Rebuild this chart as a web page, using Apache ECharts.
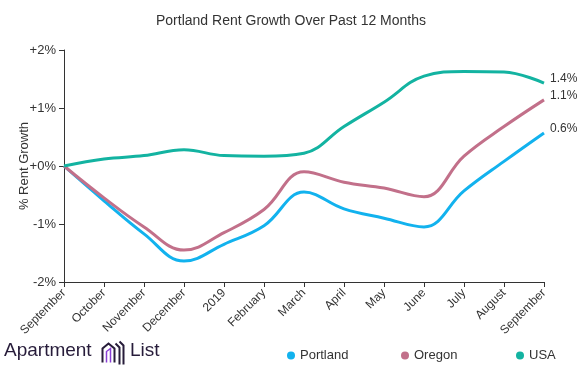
<!DOCTYPE html>
<html><head><meta charset="utf-8">
<script src="https://cdn.jsdelivr.net/npm/echarts@6/dist/echarts.min.js"></script>
<style>html,body{margin:0;padding:0;background:#fff}#c{width:582px;height:372px}</style>
</head><body><div id="c"></div>
<script>
const categories = ['September','October','November','December','2019','February','March','April','May','June','July','August','September'];
const portland = [0, -0.6, -1.17, -1.64, -1.35, -1.03, -0.45, -0.74, -0.9, -1.05, -0.43, 0.08, 0.57];
const oregon = [0, -0.55, -1.05, -1.45, -1.15, -0.75, -0.1, -0.28, -0.38, -0.53, 0.17, 0.68, 1.14];
const usa = [0, 0.12, 0.18, 0.28, 0.18, 0.17, 0.22, 0.68, 1.1, 1.55, 1.63, 1.62, 1.43];
const yTicks = [-2, -1, 0, 1, 2];
const legendNames = ['Portland', 'Oregon', 'USA'];

const chart = echarts.init(document.getElementById('c'));
function mk(name, data, color) {
  return {
    name, type: 'line', data, smooth: 0.4, symbol: 'none',
    lineStyle: { color, width: 3 }, itemStyle: { color },
    endLabel: { show: true, formatter: p => p.value.toFixed(1) + '%', color: '#333', fontSize: 12, fontFamily: 'Arial, Liberation Sans', distance: 6, offset: [0, -4] }
  };
}
const legendLeft = [282, 396, 511];
chart.setOption({
  animation: false,
  title: { text: 'Portland Rent Growth Over Past 12 Months', left: 'center', top: 9, textStyle: { fontSize: 14, fontWeight: 'normal', color: '#333', fontFamily: 'Arial, Liberation Sans' } },
  grid: { left: 64, right: 38, top: 50, bottom: 90, containLabel: false, outerBoundsMode: 'none' },
  legend: legendNames.map((n, i) => ({
    bottom: 5, left: legendLeft[i], icon: 'circle', itemWidth: 8, itemHeight: 8,
    textStyle: { fontSize: 13, color: '#333', fontFamily: 'Arial, Liberation Sans' },
    data: [n]
  })),
  xAxis: {
    type: 'category', data: categories, boundaryGap: false,
    axisLine: { onZero: false, lineStyle: { color: '#333' } },
    axisTick: { show: true, alignWithLabel: true, lineStyle: { color: '#333' } },
    axisLabel: { rotate: 45, color: '#333', fontSize: 12, fontFamily: 'Arial, Liberation Sans', interval: 0, margin: 9 }
  },
  yAxis: {
    type: 'value', min: yTicks[0], max: yTicks[yTicks.length - 1], interval: 1,
    name: '% Rent Growth', nameLocation: 'middle', nameGap: 33, nameMoveOverlap: false,
    nameTextStyle: { color: '#333', fontSize: 13, fontFamily: 'Arial, Liberation Sans' },
    splitLine: { show: false },
    axisLine: { show: true, lineStyle: { color: '#333' } },
    axisTick: { show: true, lineStyle: { color: '#333' } },
    axisLabel: { color: '#333', fontSize: 13, fontFamily: 'Arial, Liberation Sans', formatter: v => (v >= 0 ? '+' : '') + v + '%' }
  },
  series: [
    mk('Portland', portland, '#12b2ee'),
    mk('Oregon', oregon, '#c2708a'),
    mk('USA', usa, '#13b3a1')
  ],
  graphic: [
    { type: 'text', left: 4, top: 341, style: { text: 'Apartment', fontSize: 19, fontWeight: 500, fill: '#271c3a', fontFamily: 'Arial, Liberation Sans' } },
    { type: 'group', left: 100, top: 339, children: [
      { type: 'polyline', shape: { points: [[3,22],[3,8],[9,3],[15,8],[15,22]] }, style: { stroke: '#271c3a', fill: 'none', lineWidth: 2 } },
      { type: 'polyline', shape: { points: [[7,22],[7,11],[11,8],[11,22]] }, style: { stroke: '#8a3fd6', fill: 'none', lineWidth: 1.5 } },
      { type: 'polyline', shape: { points: [[16,3],[20,7],[20,24]] }, style: { stroke: '#271c3a', fill: 'none', lineWidth: 2 } },
      { type: 'polyline', shape: { points: [[20,1],[24,5],[24,24]] }, style: { stroke: '#271c3a', fill: 'none', lineWidth: 2 } }
    ]},
    { type: 'text', left: 130, top: 341, style: { text: 'List', fontSize: 19, fontWeight: 500, fill: '#271c3a', fontFamily: 'Arial, Liberation Sans' } }
  ]
});
</script></body></html>
